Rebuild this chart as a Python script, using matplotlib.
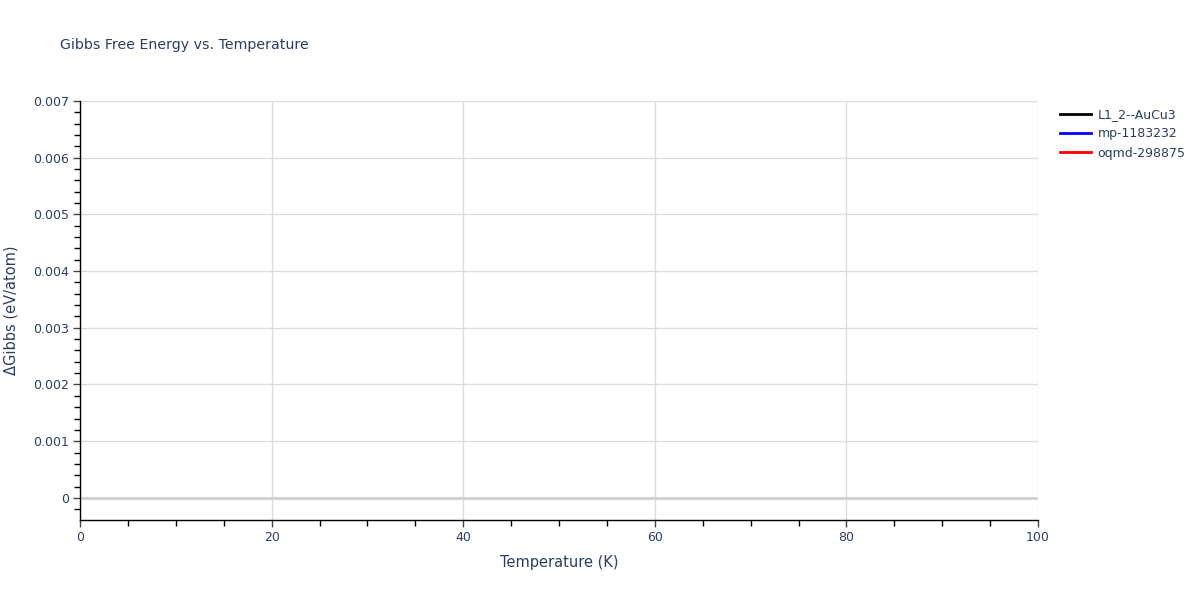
import matplotlib
matplotlib.use("Agg")
import matplotlib.pyplot as plt
from matplotlib.ticker import MultipleLocator, FuncFormatter

# Data (traces carry no visible points in the reference)
temperature = []
series_names = ["L1_2--AuCu3", "mp-1183232", "oqmd-298875"]
series_colors = ["black", "blue", "red"]
series_values = [[], [], []]

title = "Gibbs Free Energy vs. Temperature"
xlabel = "Temperature (K)"
ylabel = "ΔGibbs (eV/atom)"

txt = "#2a3f5f"
plt.rcParams['font.family'] = ['DejaVu Sans']

W, H = 1200, 600
fig = plt.figure(figsize=(12, 6), dpi=100)
ax = fig.add_axes([80 / W, 1 - 520 / H, (1038 - 80) / W, (520 - 101) / H])

handles = []
for name, col, vals in zip(series_names, series_colors, series_values):
    h, = ax.plot(temperature, vals, color=col, lw=2, label=name)
    handles.append(h)

ax.set_xlim(0, 100)
ax.set_ylim(-0.00039, 0.007)

ax.xaxis.set_major_locator(MultipleLocator(20))
ax.xaxis.set_minor_locator(MultipleLocator(5))
ax.yaxis.set_major_locator(MultipleLocator(0.001))
ax.yaxis.set_minor_locator(MultipleLocator(0.0002))

def yfmt(v, p):
    if abs(v) < 1e-12:
        return "0"
    return f"{v:.3f}"
ax.yaxis.set_major_formatter(FuncFormatter(yfmt))
ax.xaxis.set_major_formatter(FuncFormatter(lambda v, p: f"{v:g}"))

ax.grid(True, which="major", color="#dcdcdc", lw=1)
ax.axhline(0, color="#cfcfcf", lw=2, zorder=1.5)
ax.set_axisbelow(True)

for s in ["top", "right"]:
    ax.spines[s].set_visible(False)
for s in ["left", "bottom"]:
    ax.spines[s].set_color("black")
    ax.spines[s].set_linewidth(1)

ax.tick_params(axis="both", which="major", direction="out", length=5, width=1,
               color="#444444", labelcolor=txt, labelsize=9, pad=3)
ax.tick_params(axis="both", which="minor", direction="out", length=4, width=1,
               color="black")

ax.set_xlabel(xlabel, color=txt, fontsize=10.5, labelpad=8)
ax.set_ylabel(ylabel, color=txt, fontsize=10.5, labelpad=10)

fig.text(60 / W, 1 - 45 / H, title, color=txt, fontsize=10.2, va="center", ha="left")

leg = fig.legend(handles=handles, loc="upper left",
                 bbox_to_anchor=(1055 / W, 1 - 103 / H), frameon=False,
                 fontsize=9, handlelength=2.5, handletextpad=0.5,
                 labelspacing=0.5, borderaxespad=0)
for t in leg.get_texts():
    t.set_color(txt)

fig.savefig("out.png", dpi=100)
